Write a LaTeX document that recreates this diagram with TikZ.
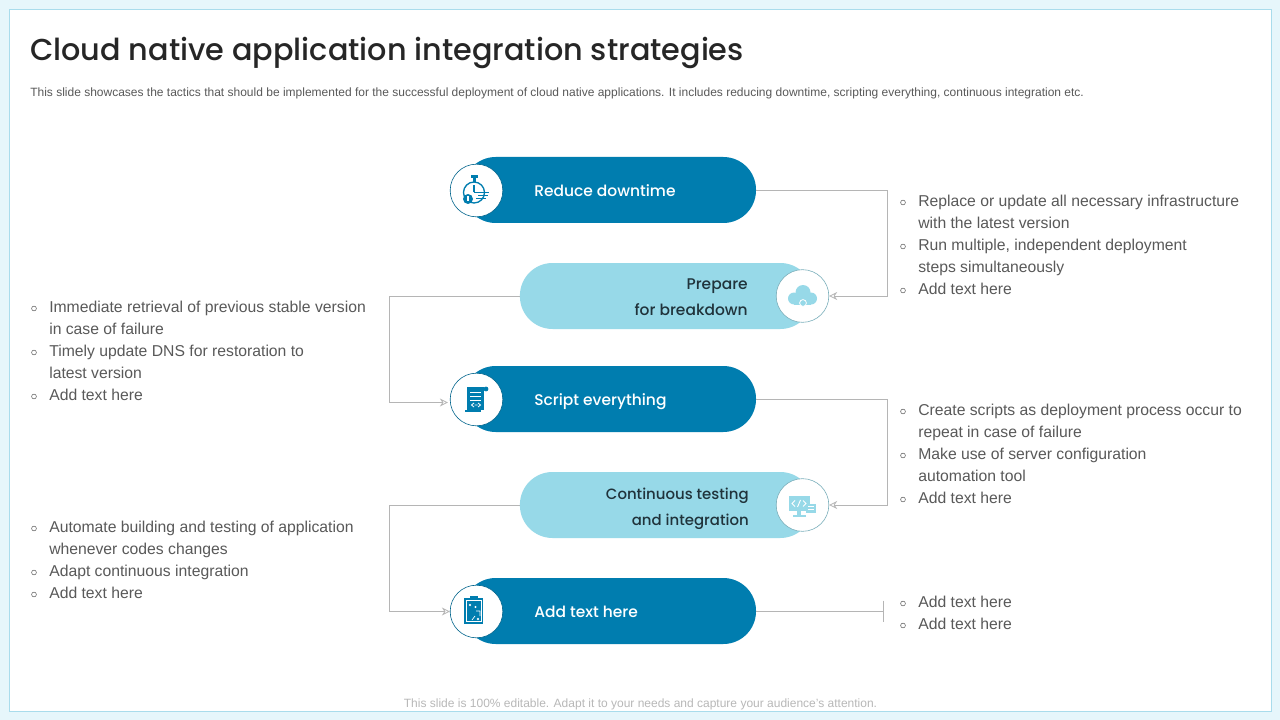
\documentclass[tikz,border=0pt]{standalone}
\usepackage{fontspec}
\setmainfont{Liberation Sans}
\newfontfamily\headfont{Poppins Medium}
\usetikzlibrary{arrows.meta,positioning,calc}
\definecolor{deepblue}{HTML}{007DAF}
\definecolor{paleblue}{HTML}{97D9E8}
\definecolor{framefill}{HTML}{E6F6FB}
\definecolor{frameline}{HTML}{A9DCEC}
\definecolor{inktext}{HTML}{595959}
\definecolor{darkhead}{HTML}{262626}
\definecolor{linkgrey}{HTML}{B5B5B5}

\begin{document}
\begin{tikzpicture}[
  x=0.75pt, y=-0.75pt, >={Stealth[open,length=6pt,width=6pt]},
  pilldark/.style={fill=deepblue, rounded corners=24.5pt, minimum width=219.75pt, minimum height=49.5pt, inner sep=0pt},
  pilllight/.style={fill=paleblue, rounded corners=24.5pt, minimum width=219.75pt, minimum height=49.5pt, inner sep=0pt},
  discdark/.style={circle, fill=white, draw=deepblue!80!black, line width=0.45pt, minimum size=39.5pt, inner sep=0pt},
  disclight/.style={circle, fill=white, draw=paleblue!80!black, line width=0.45pt, minimum size=39.5pt, inner sep=0pt},
  labdark/.style={font=\headfont\fontsize{11.6pt}{15pt}\selectfont, text=white, anchor=base west, inner sep=0pt},
  lablight/.style={font=\headfont\fontsize{11.6pt}{19.5pt}\selectfont, text=darkhead!85!deepblue, anchor=east, align=right, inner sep=0pt},
  item/.style={font=\fontsize{11.8pt}{16.5pt}\selectfont, text=inktext, anchor=north west, align=left, inner sep=0pt},
  dot/.style={circle, draw=inktext, line width=0.4pt, minimum size=3.6pt, inner sep=0pt},
  link/.style={draw=linkgrey, line width=0.6pt},
  icon/.style={fill=deepblue, draw=none},
  iconl/.style={fill=paleblue, draw=none}]
\useasboundingbox (0,0) rectangle (1280,720);
\fill[framefill] (0,0) rectangle (1280,720);
\draw[frameline, fill=white, line width=0.7pt] (9.5,9.5) rectangle (1271,711);

% header and footer
\node[anchor=base west, inner sep=0pt, text=darkhead, font=\headfont\fontsize{22.7pt}{28pt}\selectfont] (title) at (30,61) {Cloud native application integration strategies};
\node[anchor=base west, inner sep=0pt, text=inktext, font=\fontsize{9pt}{11pt}\selectfont] (intro) at (30,97) {This slide showcases the tactics that should be implemented for the successful deployment of cloud native applications. It includes reducing downtime, scripting everything, continuous integration etc.};
\node[anchor=base, inner sep=0pt, text=black!28, font=\fontsize{9pt}{11pt}\selectfont] (foot) at (640.5,707) {This slide is 100\% editable. Adapt it to your needs and capture your audience's attention.};

% pills
\node[pilldark] (down) at (609.5,190) {};
\node[pilllight] (prep) at (666.4,296) {};
\node[pilldark] (script) at (609.5,399) {};
\node[pilllight] (cont) at (666.4,505) {};
\node[pilldark] (add) at (609.5,611) {};

% discs
\node[discdark] (downdisc) at (476.5,190.5) {};
\node[disclight] (prepdisc) at (802.5,296) {};
\node[discdark] (scriptdisc) at (476.5,399.5) {};
\node[disclight] (contdisc) at (802.5,505) {};
\node[discdark] (adddisc) at (476.5,611.5) {};

% pill labels
\node[labdark] (downlab) at (534,196.5) {Reduce downtime};
\node[lablight] (preplab) at (748,297) {Prepare\\for breakdown};
\node[labdark] (scriptlab) at (534,405.5) {Script everything};
\node[lablight, font=\headfont\fontsize{11.2pt}{19.5pt}\selectfont] (contlab) at (749,508.5) {Continuous testing\\and integration};
\node[labdark] (addlab) at (534,617.5) {Add text here};

% connectors
\coordinate (tickup) at (883.5,600.5);
\coordinate (tickdown) at (883.5,621.5);
\draw[link, ->] (down.east) -| ($(prepdisc.east)+(58,0)$) -- (prepdisc.east);
\draw[link, ->] (prep.west) -- ++(-130,0) |- ($(scriptdisc.west)+(-2,3)$);
\draw[link, ->] (script.east) -| ($(contdisc.east)+(58,0)$) -- (contdisc.east);
\draw[link, ->] (cont.west) -- ++(-130,0) |- (adddisc.west);
\draw[link] (add.east) -- ($(tickup)!0.5!(tickdown)$);
\draw[link] (tickup) -- (tickdown);

% right lists
\node[item] (r1a) at (918,194.5) {Replace or update all necessary infrastructure\\with the latest version};
\node[item] (r1b) at (918,238.5) {Run multiple, independent deployment\\steps simultaneously};
\node[item] (r1c) at (918,282.5) {Add text here};
\node[dot] (d1a) at (903,202.5) {};
\node[dot] (d1b) at (903,246.5) {};
\node[dot] (d1c) at (903,290.5) {};
\node[item] (r2a) at (918,403.5) {Create scripts as deployment process occur to\\repeat in case of failure};
\node[item] (r2b) at (918,447.5) {Make use of server configuration\\automation tool};
\node[item] (r2c) at (918,491.5) {Add text here};
\node[dot] (d2a) at (903,411.5) {};
\node[dot] (d2b) at (903,455.5) {};
\node[dot] (d2c) at (903,499.5) {};
\node[item] (r3a) at (918,595.5) {Add text here};
\node[item] (r3b) at (918,617.5) {Add text here};
\node[dot] (d3a) at (903,603.5) {};
\node[dot] (d3b) at (903,625.5) {};

% left lists
\node[item] (l1a) at (49,300.5) {Immediate retrieval of previous stable version\\in case of failure};
\node[item] (l1b) at (49,344.5) {Timely update DNS for restoration to\\latest version};
\node[item] (l1c) at (49,388.5) {Add text here};
\node[dot] (e1a) at (34,308.5) {};
\node[dot] (e1b) at (34,352.5) {};
\node[dot] (e1c) at (34,396.5) {};
\node[item] (l2a) at (49,520.5) {Automate building and testing of application\\whenever codes changes};
\node[item] (l2b) at (49,564.5) {Adapt continuous integration};
\node[item] (l2c) at (49,586.5) {Add text here};
\node[dot] (e2a) at (34,528.5) {};
\node[dot] (e2b) at (34,572.5) {};
\node[dot] (e2c) at (34,594.5) {};

% stopwatch
\draw[deepblue, line width=1pt, fill=white] (474,192.5) circle (10.5);
\fill[icon] (471,175.5) rectangle (478,178.5);
\fill[icon] (473,178) rectangle (476,182);
\draw[deepblue, line width=0.8pt] (474,192.5) -- (474,185) (474,192.5) -- (481,192.5);
\draw[deepblue, line width=0.7pt] (478,192) -- (489,192) (478,195) -- (488,195) (476,198) -- (486,198);
\fill[icon] (468,199) circle (5);
\fill[white] (467.4,196.5) rectangle (468.6,201.5);
% cloud
\fill[iconl] (803,292.5) circle (7.5);
\fill[iconl] (794,298.5) circle (6);
\fill[iconl] (811,298.5) circle (6);
\fill[iconl] (794,298) rectangle (811,304.5);
\draw[white, line width=0.6pt, fill=paleblue] (803,303) circle (3.4);
% scroll
\fill[icon] (467,387) rectangle (484,410);
\fill[icon] (465,410) -- (481,410) -- (481,412) -- (465,412) -- cycle;
\fill[icon] (486,389) circle (2.4);
\draw[white, line width=0.7pt] (470,392) -- (481,392) (470,396) -- (481,396) (470,400) -- (481,400);
\draw[white, line width=0.6pt] (474,403) -- (471.5,405) -- (474,407) (478,403) -- (480.5,405) -- (478,407) (474.5,405) -- (477.5,405);
% monitor
\fill[iconl] (788.5,495.5) rectangle (810,511);
\fill[iconl] (797,511) rectangle (801,515);
\fill[iconl] (792.5,515) rectangle (805.5,516.5);
\fill[iconl] (806,504) rectangle (816,512.5);
\draw[white, line width=0.5pt] (808,506.5) -- (814,506.5) (808,509.5) -- (814,509.5);
\draw[white, line width=0.7pt] (795,500.5) -- (792,503.5) -- (795,506.5) (803,500.5) -- (806,503.5) -- (803,506.5) (800.5,500) -- (797.5,507);
% clipboard
\fill[icon] (464,597.5) rectangle (483,623.5);
\fill[icon] (470,596) rectangle (478,599);
\draw[white, line width=0.4pt, fill=deepblue] (466,600) rectangle (481,621.5);
\draw[white, line width=0.5pt] (469,604) -- (471,606) (471,604) -- (469,606) (476,611) -- (480,611) -- (480,616) (472,620) -- (475,616) (477,620) -- (479,618) (479,620) -- (477,618);
\fill[white] (475.5,607) circle (1.1);
\end{tikzpicture}
\end{document}
